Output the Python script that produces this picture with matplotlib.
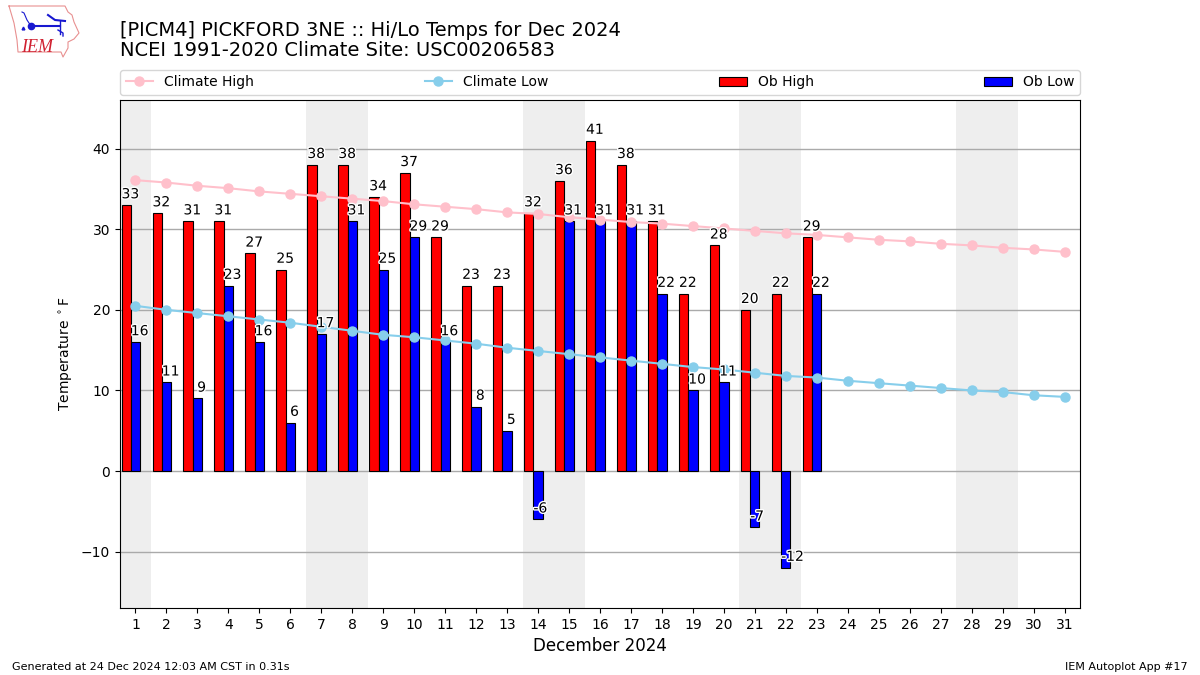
import numpy as np
import matplotlib
matplotlib.use('Agg')
import matplotlib.pyplot as plt
import matplotlib.patheffects as pe

days = list(range(1, 32))
obs_days = list(range(1, 24))
ob_high = [33, 32, 31, 31, 27, 25, 38, 38, 34, 37, 29, 23, 23, 32, 36, 41, 38, 31, 22, 28, 20, 22, 29]
ob_low = [16, 11, 9, 23, 16, 6, 17, 31, 25, 29, 16, 8, 5, -6, 31, 31, 31, 22, 10, 11, -7, -12, 22]
climate_high = [36.1, 35.8, 35.4, 35.1, 34.7, 34.4, 34.1, 33.8, 33.5, 33.1, 32.8, 32.5, 32.1, 31.9, 31.5, 31.2,
                30.9, 30.7, 30.4, 30.1, 29.8, 29.5, 29.3, 29.0, 28.7, 28.5, 28.2, 28.0, 27.7, 27.5, 27.2]
climate_low = [20.5, 20.0, 19.6, 19.2, 18.8, 18.4, 17.9, 17.4, 16.9, 16.6, 16.2, 15.8, 15.3, 14.9, 14.5, 14.1,
               13.7, 13.3, 12.9, 12.6, 12.2, 11.8, 11.6, 11.2, 10.9, 10.6, 10.3, 10.0, 9.8, 9.4, 9.2]
weekend_days = [1, 7, 8, 14, 15, 21, 22, 28, 29]

fig = plt.figure(figsize=(12, 6.75), dpi=100)
ax = fig.add_axes([0.1, 0.0993, 0.8, 0.7526])

# weekends in grey, under the grid
for d in weekend_days:
    ax.axvspan(d - 0.5, d + 0.5, color='#eeeeee', lw=0, zorder=0.2)

ax.grid(axis='y', color='#aaaaaa', lw=1)
ax.set_axisbelow(True)

ax.plot(days, climate_high, color='pink', marker='o', lw=1.5, ms=6.5, label='Climate High', zorder=5)
ax.plot(days, climate_low, color='skyblue', marker='o', lw=1.5, ms=6.5, label='Climate Low', zorder=5)

x = np.array(obs_days)
ax.bar(x - 0.45, ob_high, width=0.3, align='edge', color='r', edgecolor='k', lw=0.8, label='Ob High', zorder=3)
ax.bar(x - 0.15, ob_low, width=0.3, align='edge', color='b', edgecolor='k', lw=0.8, label='Ob Low', zorder=3)

halo = [pe.withStroke(linewidth=2, foreground='white')]
for d, hi, lo in zip(obs_days, ob_high, ob_low):
    ax.text(d - 0.45, hi + 0.85, f'{hi:2.0f}', va='baseline', ha='left', fontsize=10, zorder=6, path_effects=halo)
    ax.text(d - 0.15, lo + 0.85, f'{lo:2.0f}', va='baseline', ha='left', fontsize=10, zorder=6, path_effects=halo)

ax.set_xlim(0.5, 31.5)
ax.set_ylim(-17, 46.05)
ax.set_xticks(days)
ax.set_xlabel('December 2024', fontsize=12)
ax.set_ylabel(r'Temperature $^\circ$F', fontsize=10)
ax.tick_params(labelsize=10)
ax.legend(bbox_to_anchor=(0, 1.01, 1, 0.05), loc='lower left', ncol=4, mode='expand', borderaxespad=0, fontsize=10)

fig.text(0.1, 0.911, '[PICM4] PICKFORD 3NE :: Hi/Lo Temps for Dec 2024\nNCEI 1991-2020 Climate Site: USC00206583',
         fontsize=14, va='bottom', ha='left', linespacing=1.1)
fig.text(0.01, 0.0045, 'Generated at 24 Dec 2024 12:03 AM CST in 0.31s', fontsize=8, va='bottom', ha='left')
fig.text(0.99, 0.0045, 'IEM Autoplot App #17', fontsize=8, va='bottom', ha='right')

# logo
logo = fig.add_axes([0, 1 - 60 / 675, 80 / 1200, 60 / 675])
logo.set_xlim(0, 80)
logo.set_ylim(60, 0)
logo.axis('off')
outline_x = [9, 65, 68, 72, 74, 79, 74, 68, 68, 63, 61, 18, 17, 14, 9]
outline_y = [6, 6, 12, 15, 22, 33, 39, 42, 48, 57, 52, 52, 40, 23, 6]
logo.plot(outline_x, outline_y, color='#e89090', lw=0.8)
logo.plot([31, 60], [26, 26], color='#1818d0', lw=1.5)
logo.plot([31], [26], 'o', color='#1818d0', ms=4.5)
logo.plot([48, 55, 65], [15, 20, 21], color='#1818d0', lw=1.5)
logo.plot([60, 60], [21, 34], color='#1818d0', lw=1)
logo.plot([58, 63, 63], [30, 33, 36], color='#1818d0', lw=1)
logo.plot([22, 24, 27, 31], [12, 13, 20, 26], color='#1818d0', lw=0.8)
logo.plot([23], [28], '^', color='#1818d0', ms=2)
logo.text(21, 52, 'IEM', color='#d02030', fontsize=13, family='Liberation Serif', style='italic')

fig.savefig('out.png', dpi=100)
